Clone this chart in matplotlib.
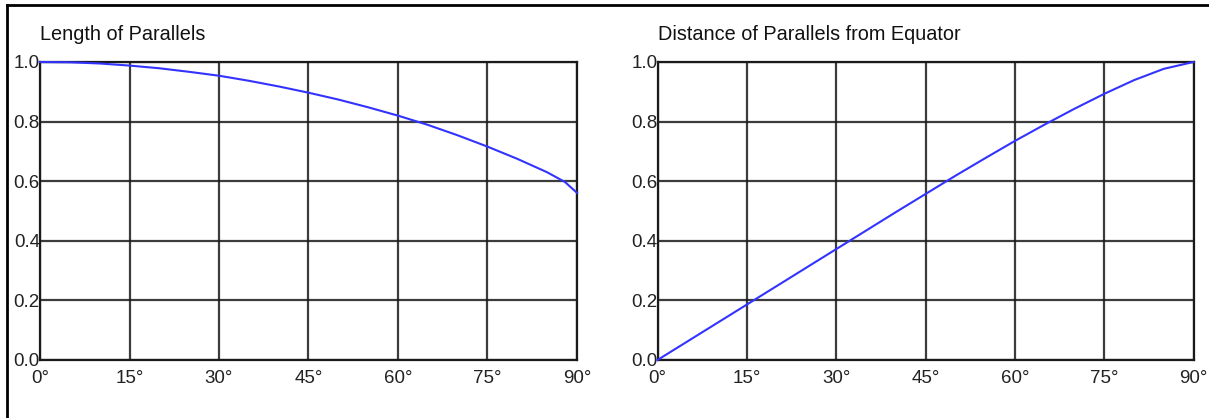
import matplotlib
matplotlib.use("Agg")
import matplotlib.pyplot as plt
from matplotlib.lines import Line2D

plt.rcParams['font.family'] = ['Liberation Sans', 'DejaVu Sans']

# Data
latitudes = [0, 5, 10, 15, 20, 25, 30, 35, 40, 45, 50, 55, 60, 65, 70, 75, 80, 85, 88, 90]
length_of_parallels = [1.000, 0.999, 0.995, 0.988, 0.979, 0.967, 0.954, 0.937, 0.918, 0.897,
                       0.874, 0.848, 0.820, 0.789, 0.754, 0.716, 0.675, 0.630, 0.597, 0.561]
lat_dist = [0, 5, 10, 15, 20, 25, 30, 35, 40, 45, 50, 55, 60, 65, 70, 75, 80, 85, 90]
distance_from_equator = [0.000, 0.062, 0.124, 0.186, 0.248, 0.310, 0.372, 0.434, 0.496, 0.557,
                         0.618, 0.677, 0.735, 0.790, 0.843, 0.893, 0.939, 0.977, 1.000]
x_ticks = [0, 15, 30, 45, 60, 75, 90]
x_tick_labels = ['0°', '15°', '30°', '45°', '60°', '75°', '90°']
y_ticks = [0.0, 0.2, 0.4, 0.6, 0.8, 1.0]
y_tick_labels = ['0.0', '0.2', '0.4', '0.6', '0.8', '1.0']
titles = ['Length of Parallels', 'Distance of Parallels from Equator']

W, H = 1209, 418
fig = plt.figure(figsize=(W / 100, H / 100), dpi=100)
fig.patch.set_facecolor('white')

FS = 13.5
TFS = 14.3
GRID_C = '#1a1a1a'
LINE_C = '#3333ff'

panels = [
    (40, 577, latitudes, length_of_parallels),
    (657.5, 1193.5, lat_dist, distance_from_equator),
]
top_px, bot_px = 62, 360

for i, (l, r, xs, ys) in enumerate(panels):
    ax = fig.add_axes([l / W, (H - bot_px) / H, (r - l) / W, (bot_px - top_px) / H])
    ax.plot(xs, ys, color=LINE_C, lw=1.5, zorder=3, clip_on=False)
    ax.set_xlim(0, 90)
    ax.set_ylim(0, 1)
    ax.set_xticks(x_ticks)
    ax.set_xticklabels(x_tick_labels, fontsize=FS, color='#222222')
    ax.set_yticks(y_ticks)
    ax.set_yticklabels(y_tick_labels, fontsize=FS, color='#222222')
    ax.tick_params(axis='both', length=0)
    ax.tick_params(axis='y', pad=0)
    ax.tick_params(axis='x', pad=7.5)
    ax.grid(True, color=GRID_C, lw=1.6, alpha=0.85)
    for s in ax.spines.values():
        s.set_color(GRID_C)
        s.set_linewidth(1.6)
    fig.text(l / W, (H - 35) / H, titles[i], fontsize=TFS, ha='left', va='center', color='#111111')

# outer frame: top and left edges
fig.add_artist(Line2D([7 / W, 1.0], [(H - 5) / H, (H - 5) / H], transform=fig.transFigure,
                      color='black', lw=2))
fig.add_artist(Line2D([7 / W, 7 / W], [0, (H - 5) / H], transform=fig.transFigure,
                      color='black', lw=2))

fig.savefig('out.png', dpi=100)
